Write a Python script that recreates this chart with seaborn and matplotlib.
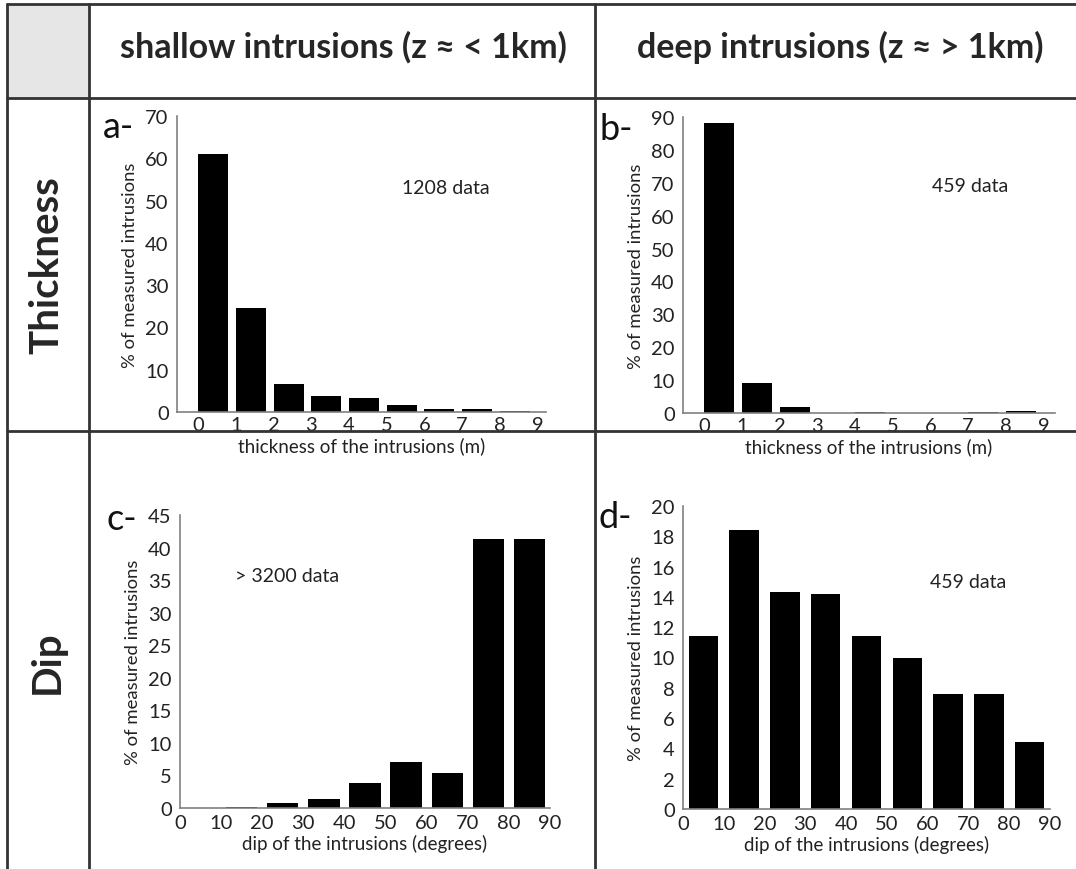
import numpy as np
import matplotlib
matplotlib.use('Agg')
import matplotlib.pyplot as plt
import seaborn as sns
from matplotlib.lines import Line2D
from matplotlib.patches import Rectangle

# ================= data =================
thick_edges = [0, 1, 2, 3, 4, 5, 6, 7, 8, 9]
thick_shallow = [61.1, 24.5, 6.6, 3.9, 3.2, 1.7, 0.6, 0.6, 0.2]
thick_deep = [88.1, 9.0, 1.8, 0.0, 0.2, 0.0, 0.0, 0.2, 0.5]

dip_edges = [0, 10, 20, 30, 40, 50, 60, 70, 80, 90]
dip_shallow = [0.0, 0.1, 0.7, 1.4, 3.8, 7.1, 5.4, 41.3, 41.3]
dip_deep = [11.4, 18.4, 14.3, 14.2, 11.4, 10.0, 7.6, 7.6, 4.4]

col_titles = ['shallow intrusions (z \u2248 < 1km)', 'deep intrusions (z \u2248 > 1km)']
row_titles = ['Thickness', 'Dip']

W, H = 1076, 870
sns.set_theme(style='white')
plt.rcParams['font.family'] = ['Lato', 'DejaVu Sans']

fig = plt.figure(figsize=(W / 100, H / 100), dpi=100)


def fx(x):
    return x / W


def fy(y):
    return 1 - y / H


def px_axes(l, t, r, b):
    return fig.add_axes([fx(l), fy(b), (r - l) / W, (b - t) / H])


# ================= table frame =================
fig.add_artist(Rectangle((fx(7), fy(99)), fx(89) - fx(7), fy(5) - fy(99),
                         transform=fig.transFigure, facecolor='#e6e6e6', edgecolor='none', zorder=0))
line_kw = dict(transform=fig.transFigure, color='#333333', linewidth=2)
for y in [5, 99, 432]:
    fig.add_artist(Line2D([fx(7), 1], [fy(y), fy(y)], **line_kw))
for x in [7, 89, 595]:
    fig.add_artist(Line2D([fx(x), fx(x)], [fy(5), 0], **line_kw))

fig.text(fx(343), fy(47), col_titles[0], ha='center', va='center', fontsize=24.5, fontweight='bold')
fig.text(fx(840), fy(47), col_titles[1], ha='center', va='center', fontsize=24.5, fontweight='bold')
fig.text(fx(47), fy(265), row_titles[0], ha='center', va='center', rotation=90, fontsize=29, fontweight='bold')
fig.text(fx(47), fy(662), row_titles[1], ha='center', va='center', rotation=90, fontsize=29, fontweight='bold')

# ================= panels =================
panels = [
    # (box l,t,r,b), edges, values, bar width, ylim, ystep, xlabel, letter pos, note, note pos
    ((177, 117, 546, 413), thick_edges, thick_shallow, 0.8, 70, 10,
     'thickness of the intrusions (m)', 'a-', (103, 128), '1208 data', (402, 189)),
    ((683, 118, 1055, 414), thick_edges, thick_deep, 0.8, 90, 10,
     'thickness of the intrusions (m)', 'b-', (599, 130), '459 data', (932, 187)),
    ((180, 516, 550, 809), dip_edges, dip_shallow, 0.76, 45, 5,
     'dip of the intrusions (degrees)', 'c-', (106, 520), '> 3200 data', (235, 577)),
    ((683, 507, 1050, 810), dip_edges, dip_deep, 0.72, 20, 2,
     'dip of the intrusions (degrees)', 'd-', (599, 518), '459 data', (930, 583)),
]

for box, edges, vals, bw, ymax, ystep, xlab, letter, lpos, note, npos in panels:
    ax = px_axes(*box)
    edges = np.array(edges, dtype=float)
    step = edges[1] - edges[0]
    if step == 1:
        centers = edges[:-1] + bw / 2
    else:
        centers = (edges[:-1] + edges[1:]) / 2
    sns.barplot(x=centers, y=vals, native_scale=True, width=bw, color='black',
                saturation=1, linewidth=0, ax=ax)

    if step == 1:
        ax.set_xlim(-0.56, edges[-1] + (box[2] - box[0]) / 37.7 - 9.56)
        ax.set_xticks(edges)
        ax.set_xticklabels([str(int(e)) for e in edges])
        ax.set_xticks(centers, minor=True)
        ax.tick_params(axis='x', which='major', length=0, pad=3)
        ax.tick_params(axis='x', which='minor', length=5, direction='inout', color='#808080', width=1)
    else:
        ax.set_xlim(edges[0], edges[-1])
        ax.set_xticks(edges)
        ax.set_xticklabels([str(int(e)) for e in edges])
        ax.tick_params(axis='x', which='major', length=5, direction='inout', color='#808080', width=1, pad=2)

    ax.set_ylim(0, ymax)
    ax.set_yticks(np.arange(0, ymax + 0.1, ystep))
    ax.tick_params(axis='y', length=4, direction='out', color='#808080', width=1, pad=2)
    ax.tick_params(axis='both', labelsize=14.5, labelcolor='#222222')

    for s in ['top', 'right']:
        ax.spines[s].set_visible(False)
    for s in ['left', 'bottom']:
        ax.spines[s].set_color('#808080')
        ax.spines[s].set_linewidth(1.2)
    ax.set_facecolor('none')

    ax.set_xlabel(xlab, fontsize=13.5, color='#222222', labelpad=2)
    ax.set_ylabel('% of measured intrusions', fontsize=13.3, color='#222222', labelpad=5)

    fig.text(fx(lpos[0]), fy(lpos[1]), letter, ha='left', va='center', fontsize=26, color='#111111')
    fig.text(fx(npos[0]), fy(npos[1]), note, ha='left', va='center', fontsize=14, color='#222222')

fig.savefig('out.png', dpi=100, facecolor='white')
